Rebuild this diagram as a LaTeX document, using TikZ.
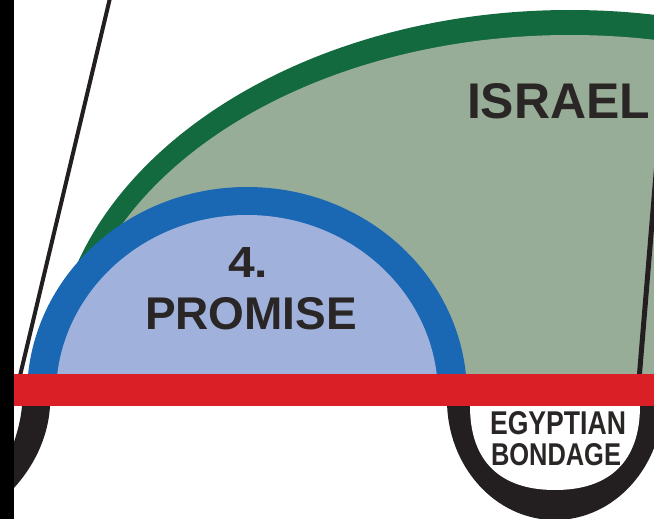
\documentclass[tikz,border=0pt]{standalone}
\usepackage{fontspec}
\setmainfont{Liberation Sans}
\usepackage{graphicx}
\definecolor{israelgreen}{HTML}{136A3F}
\definecolor{israelfill}{HTML}{98AD98}
\definecolor{promiseblue}{HTML}{1A67B3}
\definecolor{promisefill}{HTML}{A0B2DC}
\definecolor{barred}{HTML}{DA1F26}
\definecolor{inkblack}{HTML}{231F20}
\definecolor{textgray}{HTML}{2A2626}
\begin{document}
\begin{tikzpicture}[x=1pt,y=-1pt,
  txt/.style={inner sep=0pt, outer sep=0pt, text=textgray, anchor=north west, font=\bfseries}]
\useasboundingbox (0,0) rectangle (654,519);
\fill[white] (0,0) rectangle (654,519);
\begin{scope}
  \clip (0,0) rectangle (654,390);
  % Israel region
  \fill[israelgreen] (570,374) ellipse [x radius=517pt, y radius=364pt];
  \fill[israelfill] (570,374) ellipse [x radius=499pt, y radius=339pt];
  % Promise region
  \fill[promiseblue] (247,395) ellipse [x radius=220pt, y radius=208pt];
  \fill[promisefill] (247,395) ellipse [x radius=191pt, y radius=180pt];
  % thin outlines
  \coordinate (lt) at (110,-2);
  \coordinate (lb) at (19,380);
  \draw[inkblack, line width=4pt] (lt) -- (lb);
  \coordinate (rt) at (658,150);
  \coordinate (rb) at (639,380);
  \draw[inkblack, line width=5pt] (rt) -- (rb);
\end{scope}
% Egyptian bondage cup
\begin{scope}
  \clip (0,374) rectangle (654,519);
  \fill[inkblack] (555,400) ellipse [x radius=108pt, y radius=120pt];
  \fill[white] (470,380) -- (470,406) .. controls (470,461) and (500,490) .. (555,490)
     .. controls (610,490) and (640,461) .. (640,406) -- (640,380) -- cycle;
\end{scope}
% red bar
\fill[barred] (0,374) rectangle (654,406);
% left lower arc
\fill[inkblack] (22,406) -- (50,406) .. controls (48,440) and (32,468) .. (14,488)
   -- (14,442) .. controls (18,430) and (21,418) .. (22,406) -- cycle;
% left black edge
\fill[black] (0,0) rectangle (14,519);
% labels
\node[txt] (israel) at (467,83) {\resizebox{183pt}{35pt}{ISRAEL}};
\node[txt] (num) at (228,247) {\resizebox{40pt}{30pt}{4.}};
\node[txt] (promise) at (145,297) {\resizebox{212pt}{32pt}{PROMISE}};
\node[txt] (egypt) at (490,411) {\resizebox{136pt}{23pt}{EGYPTIAN}};
\node[txt] (bondage) at (491,443) {\resizebox{130pt}{22pt}{BONDAGE}};
\end{tikzpicture}
\end{document}
